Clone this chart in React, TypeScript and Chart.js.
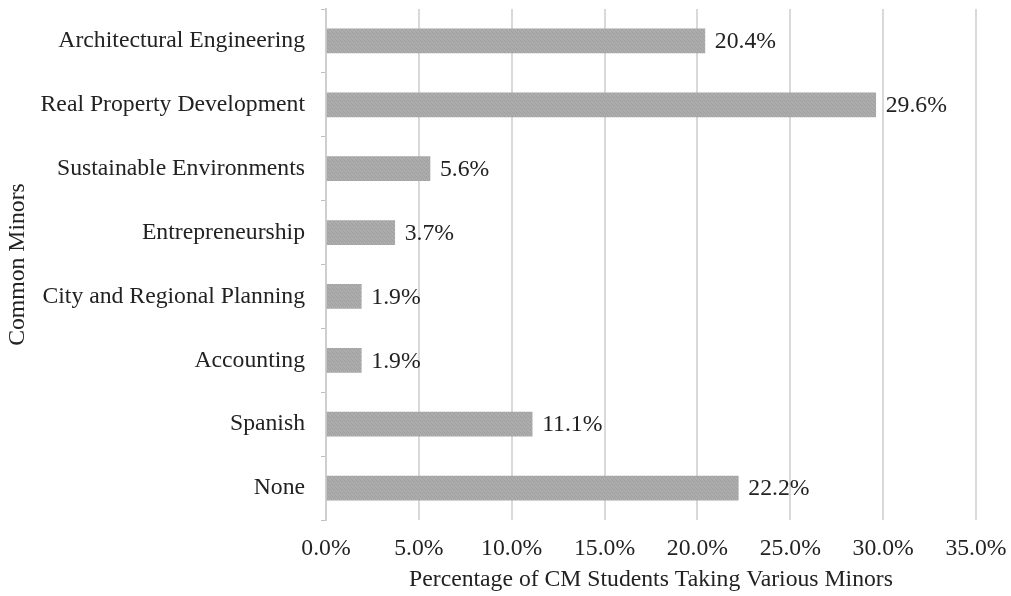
import React, { useEffect, useRef } from "react";
import { Chart, registerables } from "chart.js";

Chart.register(...registerables);

const categories = [
  "Architectural Engineering",
  "Real Property Development",
  "Sustainable Environments",
  "Entrepreneurship",
  "City and Regional Planning",
  "Accounting",
  "Spanish",
  "None",
];
const values = [20.4, 29.6, 5.6, 3.7, 1.9, 1.9, 11.1, 22.2];
const xTicks = [0, 5, 10, 15, 20, 25, 30, 35];
const xTitle = "Percentage of CM Students Taking Various Minors";
const yTitle = "Common Minors";

const FONT = "'Liberation Serif', 'Times New Roman', serif";
const FS = 23.7;
const TEXT = "#222222";

function makePattern(): CanvasPattern | string {
  const c = document.createElement("canvas");
  c.width = 4;
  c.height = 4;
  const g = c.getContext("2d");
  if (!g) return "#a9a9a9";
  g.fillStyle = "#aaaaaa";
  g.fillRect(0, 0, 4, 4);
  g.fillStyle = "#a0a0a0";
  g.fillRect(0, 0, 1, 1);
  g.fillRect(2, 1, 1, 1);
  g.fillRect(1, 2, 1, 1);
  g.fillRect(3, 3, 1, 1);
  g.fillStyle = "#b3b3b3";
  g.fillRect(2, 3, 1, 1);
  g.fillRect(0, 2, 1, 1);
  const p = g.createPattern(c, "repeat");
  return p || "#a9a9a9";
}

const valueLabels = {
  id: "valueLabels",
  afterDatasetsDraw(chart: any) {
    const ctx = chart.ctx;
    const meta = chart.getDatasetMeta(0);
    ctx.save();
    ctx.font = `${FS}px ${FONT}`;
    ctx.fillStyle = TEXT;
    ctx.textAlign = "left";
    ctx.textBaseline = "middle";
    meta.data.forEach((el: any, i: number) => {
      const v = chart.data.datasets[0].data[i] as number;
      ctx.fillText(v.toFixed(1) + "%", el.x + 10, el.y + 1);
    });
    ctx.restore();
  },
};

export default function App() {
  const ref = useRef<HTMLCanvasElement | null>(null);
  useEffect(() => {
    if (!ref.current) return;
    const chart = new Chart(ref.current, {
      type: "bar",
      data: {
        labels: categories,
        datasets: [
          {
            data: values,
            backgroundColor: makePattern() as any,
            borderWidth: 0,
            barThickness: 24,
          },
        ],
      },
      plugins: [valueLabels],
      options: {
        indexAxis: "y",
        responsive: false,
        animation: false,
        devicePixelRatio: 1,
        layout: { padding: { top: 9, right: 35, bottom: 0, left: 0 } },
        plugins: {
          legend: { display: false },
          tooltip: { enabled: false },
        },
        scales: {
          x: {
            min: 0,
            max: 35,
            afterBuildTicks: (scale: any) => {
              scale.ticks = xTicks.map((v) => ({ value: v }));
            },
            afterFit: (scale: any) => {
              scale.height = 76;
              scale.paddingLeft = 0;
              scale.paddingRight = 0;
            },
            grid: {
              display: true,
              drawTicks: false,
              color: "#d9d9d9",
              lineWidth: 2,
            },
            border: { display: false },
            ticks: {
              padding: 15,
              color: TEXT,
              font: { family: FONT, size: FS },
              callback: (v: any) => Number(v).toFixed(1) + "%",
              maxRotation: 0,
            },
            title: {
              display: true,
              text: xTitle,
              color: TEXT,
              font: { family: FONT, size: FS },
              padding: { top: 0, bottom: 2 },
            },
          },
          y: {
            afterFit: (scale: any) => {
              scale.width = 326;
              scale.paddingTop = 0;
              scale.paddingBottom = 0;
            },
            grid: {
              display: true,
              drawOnChartArea: false,
              drawTicks: true,
              tickLength: 5,
              color: "#bfbfbf",
              offset: true,
            },
            border: { display: true, color: "#cfcfcf", width: 2 },
            ticks: {
              padding: 16,
              color: TEXT,
              font: { family: FONT, size: FS },
              autoSkip: false,
            },
            title: {
              display: true,
              text: yTitle,
              color: TEXT,
              font: { family: FONT, size: FS },
              padding: { top: 4, bottom: 0 },
            },
          },
        },
      },
    });
    return () => chart.destroy();
  }, []);
  return (
    <div style={{ position: "fixed", left: 0, top: 0, width: 1011, height: 596, background: "#fff" }}>
      <canvas ref={ref} width={1011} height={596} style={{ display: "block" }} />
    </div>
  );
}
